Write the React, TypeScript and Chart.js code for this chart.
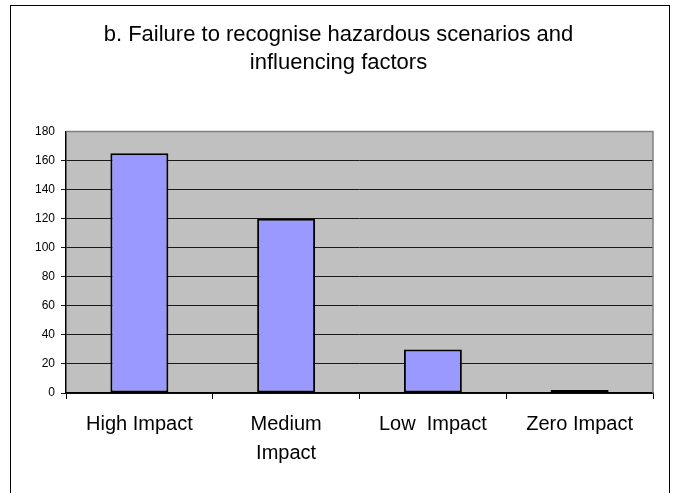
import React, { useEffect, useRef } from "react";
import { Chart, registerables } from "chart.js";

Chart.register(...registerables);

const titleLines = ["b. Failure to recognise hazardous scenarios and", "influencing factors"];
const categories: (string | string[])[] = ["High Impact", ["Medium", "Impact"], "Low  Impact", "Zero Impact"];
const counts = [165, 120, 30, 2];
const yMin = 0;
const yMax = 180;
const yStep = 20;

const FONT = "'Liberation Sans', Arial, sans-serif";

const framePlugin = {
  id: "frame",
  beforeDraw(chart: any) {
    const { ctx, chartArea } = chart;
    const { left, top, right, bottom } = chartArea;
    ctx.save();
    ctx.fillStyle = "#ffffff";
    ctx.fillRect(0, 0, chart.width, chart.height);
    ctx.fillStyle = "#c0c0c0";
    ctx.fillRect(left, top, right - left, bottom - top);
    ctx.restore();
  },
  afterDatasetsDraw(chart: any) {
    const { ctx, chartArea } = chart;
    const { left, top, right, bottom } = chartArea;
    ctx.save();
    ctx.strokeStyle = "#808080";
    ctx.lineWidth = 1.5;
    ctx.beginPath();
    ctx.moveTo(left, top);
    ctx.lineTo(right, top);
    ctx.lineTo(right, bottom);
    ctx.stroke();
    ctx.strokeStyle = "#000000";
    ctx.lineWidth = 1;
    ctx.strokeRect(10.5, 5.5, 659, 520);
    ctx.restore();
  },
};

export default function App() {
  const ref = useRef<HTMLCanvasElement | null>(null);
  useEffect(() => {
    if (!ref.current) return;
    const chart = new Chart(ref.current, {
      type: "bar",
      data: {
        labels: categories,
        datasets: [
          {
            data: counts,
            backgroundColor: "#9999ff",
            borderColor: "#000000",
            borderWidth: 2,
            borderSkipped: false,
            barPercentage: 0.395,
            categoryPercentage: 1,
          },
        ],
      },
      options: {
        responsive: false,
        animation: false,
        layout: { padding: { left: 24, right: 22, top: 0, bottom: 0 } },
        plugins: {
          legend: { display: false },
          tooltip: { enabled: false },
          title: {
            display: true,
            text: titleLines,
            color: "#000000",
            font: { family: FONT, size: 22, weight: "normal", lineHeight: 28 / 22 },
            padding: { top: 21, bottom: 54.5 },
          },
        },
        scales: {
          x: {
            offset: true,
            grid: {
              display: true,
              offset: true,
              drawOnChartArea: false,
              drawTicks: true,
              tickLength: 6,
              color: "#000000",
            },
            border: { display: true, color: "#000000", width: 1.5 },
            ticks: {
              color: "#000000",
              font: { family: FONT, size: 20, lineHeight: 29 / 20 },
              padding: 11,
              maxRotation: 0,
              minRotation: 0,
              autoSkip: false,
            },
            afterFit(scale: any) {
              scale.height = 100;
            },
          },
          y: {
            min: yMin,
            max: yMax,
            grid: {
              color: (c: any) => (c.tick && c.tick.value === yMax ? "rgba(0,0,0,0)" : "#1a1a1a"),
              lineWidth: 1,
              tickLength: 5,
              drawTicks: true,
            },
            border: { display: true, color: "#000000", width: 1.5 },
            ticks: {
              stepSize: yStep,
              color: "#000000",
              font: { family: FONT, size: 12 },
              padding: 6,
            },
            afterFit(scale: any) {
              scale.width = 42;
            },
          },
        },
      },
      plugins: [framePlugin],
    });
    return () => chart.destroy();
  }, []);
  return (
    <div style={{ position: "absolute", left: 0, top: 0, width: 675, height: 493, overflow: "hidden" }}>
      <canvas ref={ref} width={675} height={493} style={{ display: "block" }} />
    </div>
  );
}
